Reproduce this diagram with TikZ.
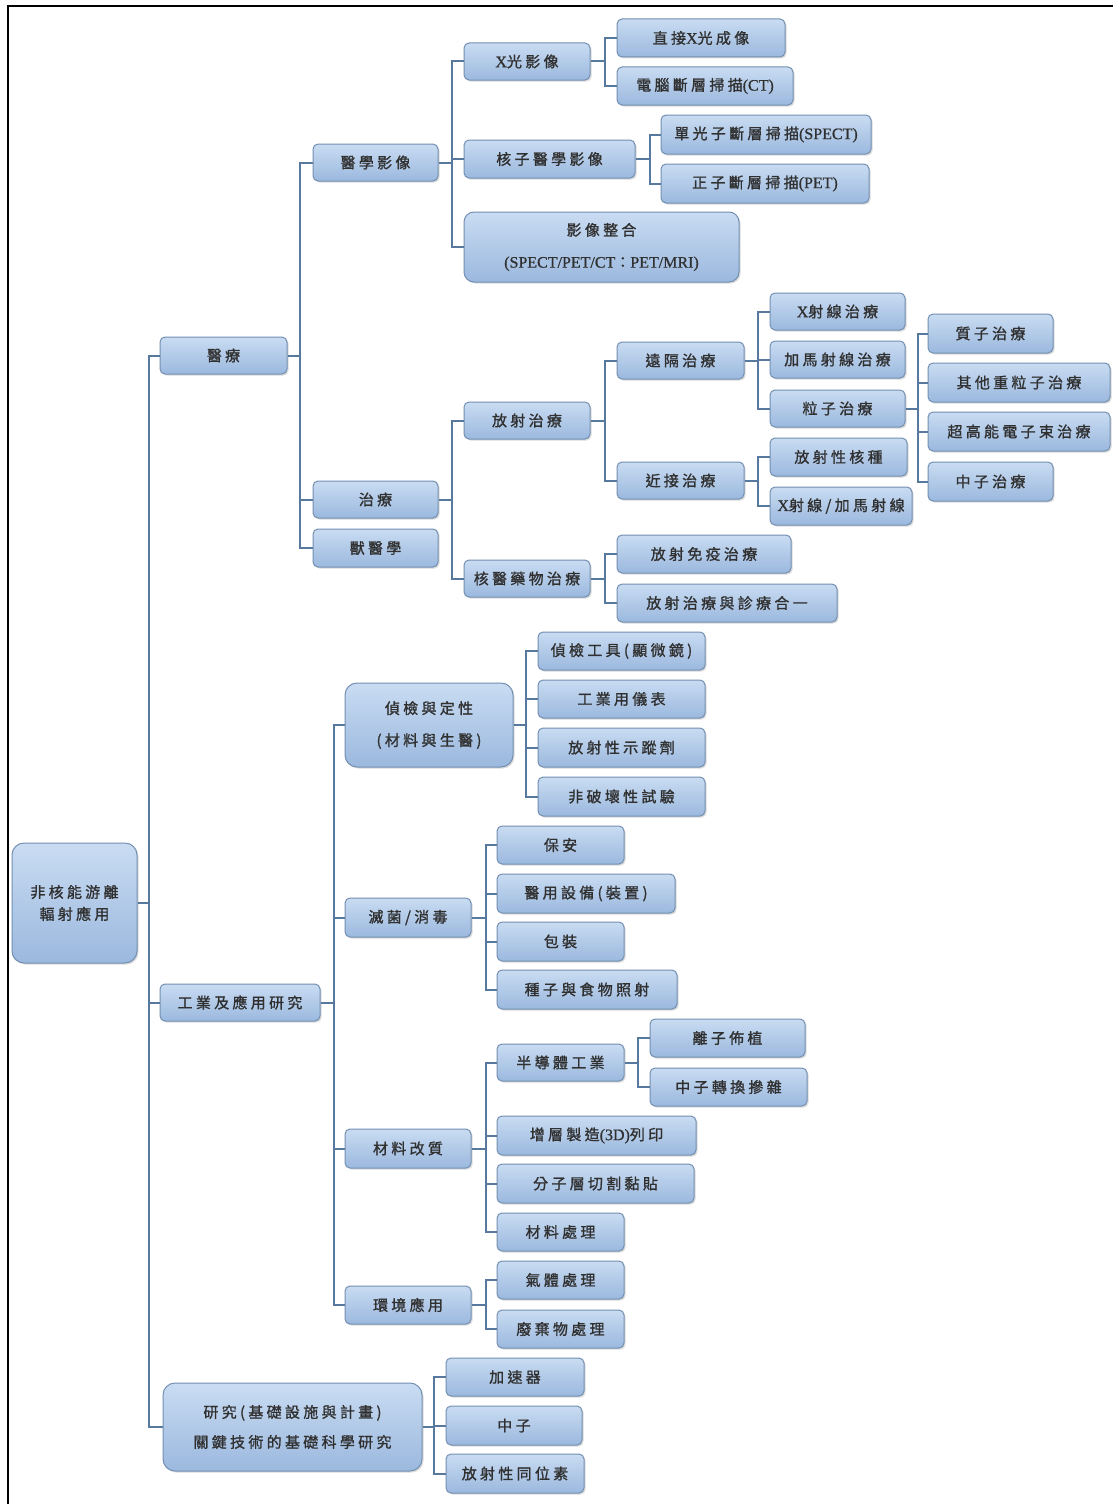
\documentclass[tikz,border=0pt]{standalone}
\usepackage{fontspec}
\setmainfont{Noto Sans CJK TC}[LetterSpace=22, FakeBold=1.2]
\newfontfamily\latinfont{Liberation Serif}[FakeBold=0.8]
\usetikzlibrary{shadows}
\definecolor{boxtop}{HTML}{C9DCF2}
\definecolor{boxbot}{HTML}{9BB8DE}
\definecolor{boxline}{HTML}{7390B2}
\definecolor{connc}{HTML}{58799E}
\definecolor{txt}{HTML}{303030}
\newcommand\lt[1]{{\latinfont\fontsize{16}{18}\selectfont #1}}
\tikzset{
 box/.style={draw=boxline, line width=1pt, rounded corners=5pt, top color=boxtop, bottom color=boxbot, inner sep=0pt, align=center, text=txt, font=\fontsize{15}{18}\selectfont, drop shadow={shadow xshift=1.5pt, shadow yshift=-1.5pt, opacity=0.35, fill=black!40}},
 bigbox/.style={rounded corners=12pt, font=\fontsize{15}{32}\selectfont},
 conn/.style={draw=connc, line width=2pt},
}
\newcommand\bx[7][]{\node[box,#1,minimum width={(#5-#3)*1pt},minimum height={(#6-#4)*1pt}] (#2) at ({(#3+#5)/2},{(#4+#6)/2}) {#7};}
\newcommand\kids[3]{\foreach \kid in {#3}{\draw[conn] (#1.east) -- ++(#2,0) |- (\kid.west);}}
\begin{document}
\begin{tikzpicture}[x=1pt,y=-1pt]
\fill[white] (0,0) rectangle (1113,1504);
\useasboundingbox (0,0) rectangle (1113,1504);
\draw[line width=2.4pt, black] (8,1504) -- (8,6) -- (1113,6);

\bx[bigbox,font=\fontsize{15}{22}\selectfont]{root}{12}{843}{137}{963}{非核能游離\\輻射應用}
\bx{yl}{160}{337}{287}{374}{醫療}
\bx{gy}{160}{984}{320}{1021}{工業及應用研究}
\bx[bigbox,font=\fontsize{15}{30}\selectfont]{yj}{163}{1383}{422}{1471}{研究(基礎設施與計畫)\\關鍵技術的基礎科學研究}

\bx{yxyx}{313}{144}{438}{181}{醫學影像}
\bx{zl}{313}{481}{438}{518}{治療}
\bx{syx}{313}{529}{438}{567}{獸醫學}

\bx{xg}{464}{43}{590}{80}{\lt{X}光影像}
\bx{hzyx}{464}{140}{635}{178}{核子醫學影像}
\bx[rounded corners=10pt,font=\fontsize{15}{32}\selectfont]{yxzh}{464}{212}{739}{282}{影像整合\\\lt{(SPECT/PET/CT}：\lt{PET/MRI)}}

\bx{zj}{617}{19}{785}{57}{直接\lt{X}光成像}
\bx{ct}{617}{67}{793}{105}{電腦斷層掃描\lt{(CT)}}
\bx{spect}{661}{115}{871}{154}{單光子斷層掃描\lt{(SPECT)}}
\bx{pet}{661}{164}{869}{203}{正子斷層掃描\lt{(PET)}}

\bx{fszl}{464}{402}{590}{439}{放射治療}
\bx{hyyw}{464}{560}{590}{597}{核醫藥物治療}
\bx{yg}{617}{342}{744}{379}{遠隔治療}
\bx{jj}{617}{462}{744}{499}{近接治療}
\bx{xsx}{770}{293}{905}{330}{\lt{X}射線治療}
\bx{jmsx}{770}{341}{905}{378}{加馬射線治療}
\bx{lz}{770}{390}{905}{427}{粒子治療}
\bx{zz}{928}{314}{1053}{353}{質子治療}
\bx{qt}{928}{363}{1110}{402}{其他重粒子治療}
\bx{cgn}{928}{412}{1110}{451}{超高能電子束治療}
\bx{zzz}{928}{462}{1053}{501}{中子治療}
\bx{fsxhz}{770}{438}{907}{476}{放射性核種}
\bx{xjm}{770}{487}{912}{525}{\lt{X}射線/加馬射線}
\bx{fsmy}{617}{535}{791}{573}{放射免疫治療}
\bx{fshy}{617}{584}{837}{622}{放射治療與診療合一}

\bx[bigbox,font=\fontsize{15}{32}\selectfont]{jj2}{345}{683}{513}{767}{偵檢與定性\\(材料與生醫)}
\bx{mj}{345}{898}{471}{937}{滅菌/消毒}
\bx{clgz}{345}{1129}{471}{1168}{材料改質}
\bx{hjyy}{345}{1286}{471}{1324}{環境應用}

\bx{jjgj}{538}{632}{705}{670}{偵檢工具(顯微鏡)}
\bx{gyyb}{538}{680}{705}{718}{工業用儀表}
\bx{sz}{538}{728}{705}{767}{放射性示蹤劑}
\bx{fph}{538}{777}{705}{816}{非破壞性試驗}

\bx{ba}{497}{826}{624}{864}{保安}
\bx{yysb}{497}{874}{675}{913}{醫用設備(裝置)}
\bx{bz}{497}{922}{624}{961}{包裝}
\bx{zzsw}{497}{970}{677}{1009}{種子與食物照射}

\bx{bdt}{497}{1044}{624}{1081}{半導體工業}
\bx{zczz}{497}{1116}{696}{1155}{增層製造\lt{(3D)}列印}
\bx{fzc}{497}{1164}{694}{1203}{分子層切割黏貼}
\bx{clcl}{497}{1213}{624}{1251}{材料處理}
\bx{lzbz}{650}{1019}{805}{1057}{離子佈植}
\bx{zzzh}{650}{1068}{807}{1106}{中子轉換摻雜}
\bx{qtcl}{497}{1261}{624}{1299}{氣體處理}
\bx{fqw}{497}{1310}{624}{1348}{廢棄物處理}

\bx{jsq}{446}{1358}{584}{1396}{加速器}
\bx{zzi}{446}{1406}{582}{1445}{中子}
\bx{tws}{446}{1454}{584}{1493}{放射性同位素}

\kids{root}{11}{yl,gy,yj}
\kids{yl}{12}{yxyx,zl,syx}
\kids{yxyx}{13}{xg,hzyx,yxzh}
\kids{xg}{14}{zj,ct}
\kids{hzyx}{14}{spect,pet}
\kids{zl}{13}{fszl,hyyw}
\kids{fszl}{14}{yg,jj}
\kids{yg}{13}{xsx,jmsx,lz}
\kids{lz}{12}{zz,qt,cgn,zzz}
\kids{jj}{13}{fsxhz,xjm}
\kids{hyyw}{14}{fsmy,fshy}
\kids{gy}{13}{jj2,mj,clgz,hjyy}
\kids{jj2}{12}{jjgj,gyyb,sz,fph}
\kids{mj}{14}{ba,yysb,bz,zzsw}
\kids{clgz}{14}{bdt,zczz,fzc,clcl}
\kids{bdt}{13}{lzbz,zzzh}
\kids{hjyy}{14}{qtcl,fqw}
\kids{yj}{11}{jsq,zzi,tws}
\end{tikzpicture}
\end{document}
